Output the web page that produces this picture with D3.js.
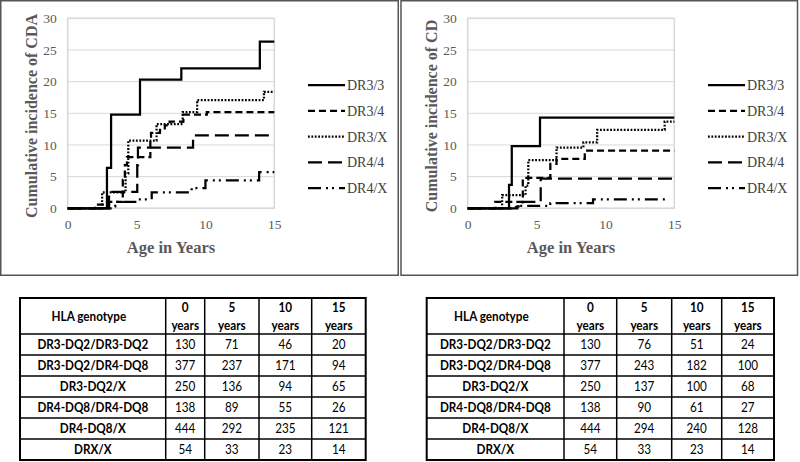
<!DOCTYPE html>
<html><head><meta charset="utf-8">
<script src="https://cdn.jsdelivr.net/npm/d3@7"></script>
<style>body{margin:0;background:#fff} svg{display:block}</style>
</head><body><svg id="c" width="800" height="462"></svg>
<script>
// ---------- data ----------
const seriesNames = ["DR3/3", "DR3/4", "DR3/X", "DR4/4", "DR4/X"];
const xTicks = [0, 5, 10, 15];
const yTicks = [0, 5, 10, 15, 20, 25, 30];

// step points: [age, cumulative incidence after the step]
const cdaDR33 = [[0,0],[2.85,6.4],[3.15,14.8],[5.25,20.3],[8.25,22.1],[13.95,26.3],[15,26.3]];
const cdaDR34 = [[0,0],[2.0,0.6],[3.0,1.0],[4.0,4.5],[4.15,6.8],[4.3,8.1],[6.0,10.7],[6.05,11.9],[6.7,12.4],[7.05,13.1],[7.4,13.7],[8.4,14.8],[10.1,15.2],[15,15.2]];
const cdaDR3X = [[0,0],[2.5,2.5],[4.2,5.5],[4.4,10.7],[6.45,13.3],[8.35,15.2],[9.4,17.1],[14.25,18.4],[15,18.4]];
const cdaDR44 = [[0,0],[3.0,2.6],[5.05,6.8],[5.1,9.6],[9.1,11.5],[15,11.5]];
const cdaDR4X = [[0,0],[3.3,0.3],[3.45,0.6],[3.6,1.0],[5.0,1.4],[6.1,2.5],[9.0,3.2],[10.0,4.4],[13.9,5.7],[15,5.7]];

const cdDR33 = [[0,0],[3.0,3.7],[3.2,9.8],[5.25,14.3],[15,14.3]];
const cdDR34 = [[0,0],[2.0,1.0],[4.0,4.8],[6.0,7.0],[6.45,7.8],[8.5,9.1],[15,9.1]];
const cdDR3X = [[0,0],[2.5,2.1],[4.2,3.6],[4.4,7.6],[6.45,9.6],[8.4,10.4],[9.4,12.4],[14.3,13.7],[15,13.7]];
const cdDR44 = [[0,0],[3.6,0.3],[4.0,1.0],[5.3,4.7],[15,4.7]];
const cdDR4X = [[0,0],[3.5,0.2],[3.8,0.4],[6.0,0.8],[9.1,1.4],[14.6,1.4]];

const tableHeaders = ["HLA genotype", "0", "5", "10", "15"];
const genotypes = ["DR3-DQ2/DR3-DQ2","DR3-DQ2/DR4-DQ8","DR3-DQ2/X","DR4-DQ8/DR4-DQ8","DR4-DQ8/X","DRX/X"];
const cdaRisk0 = [130,377,250,138,444,54];
const cdaRisk5 = [71,237,136,89,292,33];
const cdaRisk10 = [46,171,94,55,235,23];
const cdaRisk15 = [20,94,65,26,121,14];
const cdRisk0 = [130,377,250,138,444,54];
const cdRisk5 = [76,243,137,90,294,33];
const cdRisk10 = [51,182,100,61,240,23];
const cdRisk15 = [24,100,68,27,128,14];

// ---------- drawing ----------
const svg = d3.select("#c");
const dashes = [null, "7,4", "1.8,1.6", "14,6", "13,5,2,4,2,5"];
const serif = "'Liberation Serif', 'Times New Roman', serif";
const grey = "#595959";

// panel frames
svg.append("rect").attr("x",0.75).attr("y",0.75).attr("width",397.5).attr("height",274.5)
  .attr("fill","#fff").attr("stroke","#555").attr("stroke-width",1.5);
svg.append("rect").attr("x",401).attr("y",0.75).attr("width",396.5).attr("height",274.5)
  .attr("fill","#fff").attr("stroke","#555").attr("stroke-width",1.5);

function drawChart(ox, series, yTitle) {
  const g = svg.append("g").attr("transform", `translate(${ox},0)`);
  const x = d3.scaleLinear().domain([0,15]).range([67.7,274.3]);
  const y = d3.scaleLinear().domain([0,30]).range([208.3,18.3]);

  g.append("g").selectAll("line").data(yTicks).join("line")
    .attr("x1", x(0)).attr("x2", x(15)).attr("y1", d=>y(d)).attr("y2", d=>y(d))
    .attr("stroke","#d9d9d9").attr("stroke-width",1);
  g.append("rect").attr("x", x(0)).attr("y", y(30)).attr("width", x(15)-x(0)).attr("height", y(0)-y(30))
    .attr("fill","none").attr("stroke","#d9d9d9").attr("stroke-width",1.6);

  const ay = g.append("g").attr("transform", `translate(${x(0)},0)`)
    .call(d3.axisLeft(y).tickValues(yTicks).tickSize(0).tickPadding(11));
  const ax = g.append("g").attr("transform", `translate(0,${y(0)})`)
    .call(d3.axisBottom(x).tickValues(xTicks).tickSize(0).tickPadding(11.5));
  [ay, ax].forEach(a => {
    a.select(".domain").remove();
    a.selectAll("text").attr("font-family", serif).attr("font-size", 13.5).attr("fill", grey);
  });

  const line = d3.line().x(d=>x(d[0])).y(d=>y(d[1])).curve(d3.curveStepAfter);
  series.forEach((s,i) => {
    g.append("path").attr("d", line(s)).attr("fill","none").attr("stroke","#000")
      .attr("stroke-width", 2.25).attr("stroke-dasharray", dashes[i]);
  });

  // legend
  seriesNames.forEach((n,i) => {
    const ly = 85 + i*25.8;
    g.append("line").attr("x1",308).attr("x2",345).attr("y1",ly).attr("y2",ly)
      .attr("stroke","#000").attr("stroke-width",2.25).attr("stroke-dasharray", dashes[i]);
    g.append("text").attr("x",347).attr("y",ly).attr("dy","0.35em")
      .attr("font-family", serif).attr("font-size",14).attr("fill","#404040").text(n);
  });

  g.append("text").attr("transform", `translate(31.5,116) rotate(-90)`)
    .attr("text-anchor","middle").attr("dy","0.35em")
    .attr("font-family", serif).attr("font-weight","bold").attr("font-size",16).attr("fill",grey)
    .text(yTitle);
  g.append("text").attr("x", (x(0)+x(15))/2).attr("y", 253).attr("text-anchor","middle")
    .attr("font-family", serif).attr("font-weight","bold").attr("font-size",16.5).attr("fill",grey)
    .text("Age in Years");
}

drawChart(0, [cdaDR33, cdaDR34, cdaDR3X, cdaDR44, cdaDR4X], "Cumulative incidence of CDA");
drawChart(400, [cdDR33, cdDR34, cdDR3X, cdDR44, cdDR4X], "Cumulative incidence of CD");

// table font fit (narrowed Lato to mimic Calibri proportions)
const sans = "Lato, 'Open Sans', sans-serif";
const squeeze = 0.88;
const probe = svg.append("text").attr("font-family", sans).attr("font-weight","bold")
  .attr("font-size", 13).text("DR3-DQ2/DR3-DQ2");
const fs = 13 * 111 / (probe.node().getComputedTextLength() * squeeze);
probe.remove();

function drawTable(colX, cols) {
  const rowY = [298, 334, 355, 376, 397, 418, 439, 460];
  const g = svg.append("g");
  colX.slice(1,-1).forEach(cx => g.append("line").attr("x1",cx).attr("x2",cx)
    .attr("y1",rowY[0]).attr("y2",rowY[rowY.length-1]).attr("stroke","#000").attr("stroke-width",1.5));
  rowY.slice(1,-1).forEach(ry => g.append("line").attr("x1",colX[0]).attr("x2",colX[colX.length-1])
    .attr("y1",ry).attr("y2",ry).attr("stroke","#000").attr("stroke-width",1.5));
  g.append("rect").attr("x",colX[0]).attr("y",rowY[0]).attr("width",colX[colX.length-1]-colX[0])
    .attr("height",rowY[rowY.length-1]-rowY[0]).attr("fill","none").attr("stroke","#000").attr("stroke-width",2);

  const cxm = i => (colX[i]+colX[i+1])/2;
  const txt = (xx, yy, t, bold) => g.append("text")
    .attr("transform", `translate(${xx},${yy}) scale(${squeeze},1)`).attr("dy","0.35em")
    .attr("text-anchor","middle").attr("font-family",sans).attr("font-weight", bold?"bold":"normal")
    .attr("font-size",fs).attr("fill","#000").text(t);
  txt(cxm(0) - 4, (rowY[0]+rowY[1])/2, tableHeaders[0], true);
  for (let c = 1; c < 5; c++) {
    txt(cxm(c), rowY[0]+9, tableHeaders[c], true);
    txt(cxm(c), rowY[0]+27, "years", true);
  }
  genotypes.forEach((gn, r) => {
    const yy = (rowY[r+1]+rowY[r+2])/2;
    txt(cxm(0), yy, gn, true);
    cols.forEach((col, c) => txt(cxm(c+1), yy, col[r], false));
  });
}
drawTable([20,165.7,204.7,259,311.7,365.7], [cdaRisk0, cdaRisk5, cdaRisk10, cdaRisk15]);
drawTable([426.7,564,616.7,671.7,721.7,774], [cdRisk0, cdRisk5, cdRisk10, cdRisk15]);
</script></body></html>
